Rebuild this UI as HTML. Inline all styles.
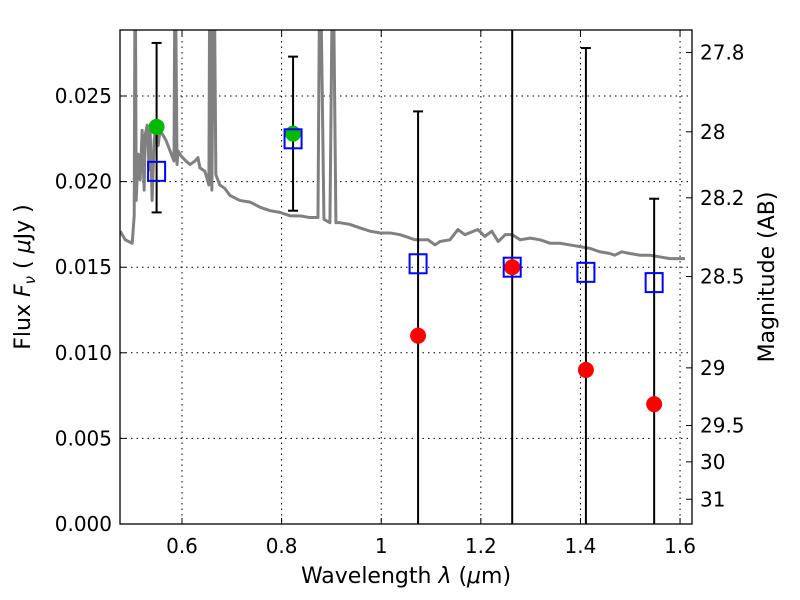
<!DOCTYPE html>
<html><head><meta charset="utf-8"><style>
html,body{margin:0;background:#fff;width:800px;height:600px;overflow:hidden}
svg{display:block;font-family:"DejaVu Sans","Liberation Sans",sans-serif}
</style></head><body>
<svg id="chart" width="800" height="600" viewBox="0 0 800 600" xmlns="http://www.w3.org/2000/svg">
<defs><clipPath id="clip"><rect x="120" y="30" width="572" height="494"/></clipPath></defs>
<rect x="0" y="0" width="800" height="600" fill="#fff"/>
<g id="grid"></g>
<g id="plot" clip-path="url(#clip)"></g>
<rect x="120" y="30" width="572" height="494" fill="none" stroke="#000" stroke-width="1.3"/>
<g id="axes"></g>
<text x="406" y="583" font-size="22" text-anchor="middle">Wavelength  <tspan font-style="italic">λ</tspan> (<tspan font-style="italic">μ</tspan>m)</text>
<text transform="translate(30,277) rotate(-90)" font-size="22" text-anchor="middle">Flux  <tspan font-style="italic">F</tspan><tspan font-style="italic" font-size="15" dy="5">ν</tspan><tspan dy="-5">  ( </tspan><tspan font-style="italic">μ</tspan>Jy )</text>
<text transform="translate(774,277) rotate(-90)" font-size="22" text-anchor="middle">Magnitude (AB)</text>
</svg>
<script>
const specLam=[0.476,0.486,0.500,0.504,0.506,0.508,0.512,0.516,0.520,0.524,0.526,0.530,0.534,0.536,0.540,0.544,0.548,0.552,0.556,0.568,0.576,0.584,0.586,0.590,0.592,0.598,0.608,0.616,0.626,0.632,0.636,0.646,0.654,0.656,0.660,0.664,0.668,0.676,0.686,0.696,0.716,0.737,0.757,0.777,0.797,0.817,0.837,0.857,0.873,0.877,0.885,0.897,0.903,0.909,0.917,0.937,0.957,0.978,0.998,1.018,1.038,1.058,1.068,1.078,1.094,1.108,1.118,1.138,1.154,1.168,1.194,1.208,1.222,1.235,1.249,1.263,1.279,1.299,1.319,1.339,1.359,1.379,1.399,1.419,1.439,1.459,1.469,1.483,1.499,1.520,1.540,1.560,1.580,1.600,1.610];
const specFlux=[0.0171,0.0166,0.0164,0.0180,0.035,0.0189,0.0216,0.0201,0.0230,0.0195,0.0227,0.0233,0.0207,0.0230,0.0189,0.0224,0.0233,0.0221,0.0230,0.0224,0.0218,0.0212,0.035,0.0210,0.0218,0.0215,0.0212,0.0210,0.0212,0.0214,0.0208,0.0206,0.0198,0.035,0.0195,0.035,0.0204,0.0198,0.0196,0.0192,0.0189,0.0188,0.0185,0.0183,0.0182,0.0180,0.0180,0.0179,0.0179,0.035,0.0178,0.0176,0.035,0.0176,0.0176,0.0175,0.0173,0.0171,0.0170,0.0170,0.0169,0.0167,0.0166,0.0166,0.0166,0.0163,0.0165,0.0166,0.0172,0.0169,0.0172,0.0168,0.0171,0.0165,0.0169,0.0169,0.0166,0.0167,0.0166,0.0164,0.0164,0.0163,0.0162,0.0161,0.0159,0.0158,0.0157,0.0159,0.0158,0.0157,0.0157,0.0156,0.0155,0.0155,0.0155];
const photLam=[0.549,0.823,1.074,1.263,1.411,1.548];
const modelFlux=[0.0206,0.0225,0.0152,0.0150,0.0147,0.0141];
const errLow=[0.0182,0.0183,-0.01,-0.01,-0.01,-0.01];
const errHigh=[0.0281,0.0273,0.0241,0.035,0.0278,0.0190];
const greenLam=[0.549,0.823];
const greenFlux=[0.0232,0.0228];
const redLam=[1.074,1.263,1.411,1.548];
const redFlux=[0.0110,0.0150,0.0090,0.0070];
const xTicks=[0.6,0.8,1.0,1.2,1.4,1.6];
const xTickLabels=["0.6","0.8","1","1.2","1.4","1.6"];
const yTicks=[0,0.005,0.010,0.015,0.020,0.025];
const yTickLabels=["0.000","0.005","0.010","0.015","0.020","0.025"];
const magTicks=[27.8,28,28.2,28.5,29,29.5,30,31];
const magTickLabels=["27.8","28","28.2","28.5","29","29.5","30","31"];

const X0=120,X1=692,Y0=524,Y1=30,LMIN=0.4755,LMAX=1.624,FMIN=0,FMAX=0.028855;
const sx=l=>X0+(l-LMIN)/(LMAX-LMIN)*(X1-X0);
const sy=f=>Y0-(f-FMIN)/(FMAX-FMIN)*(Y0-Y1);
const NS="http://www.w3.org/2000/svg";
function mk(tag,attrs,parent){const e=document.createElementNS(NS,tag);for(const k in attrs)e.setAttribute(k,attrs[k]);parent.appendChild(e);return e;}
const grid=document.getElementById('grid'),plot=document.getElementById('plot'),axes=document.getElementById('axes');

xTicks.forEach((t,i)=>{const x=sx(t);
 const g=mk('line',{x1:x,x2:x,y1:Y1,y2:Y0,stroke:'#000','stroke-width':1,'stroke-dasharray':'1.5,4'},grid);
 
 
 mk('line',{x1:x,x2:x,y1:Y0,y2:Y0-6,stroke:'#000'},axes);
 mk('line',{x1:x,x2:x,y1:Y1,y2:Y1+6,stroke:'#000'},axes);
 const tx=mk('text',{x:x,y:553,'font-size':20,'text-anchor':'middle'},axes);tx.textContent=xTickLabels[i];
 
 
});
yTicks.forEach((t,i)=>{const y=sy(t);
 const g=mk('line',{x1:X0,x2:X1,y1:y,y2:y,stroke:'#000','stroke-width':1,'stroke-dasharray':'1.5,4'},grid);
 
 
 mk('line',{x1:X0,x2:X0+6,y1:y,y2:y,stroke:'#000'},axes);
 const tx=mk('text',{x:112,y:y+7,'font-size':20,'text-anchor':'end'},axes);tx.textContent=yTickLabels[i];
 
 
});
magTicks.forEach((m,i)=>{const f=Math.pow(10,(23.9-m)/2.5);const y=sy(f);
 mk('line',{x1:X1,x2:X1-6,y1:y,y2:y,stroke:'#000'},axes);
 const tx=mk('text',{x:700,y:y+7,'font-size':20,'text-anchor':'start'},axes);tx.textContent=magTickLabels[i];
 
 
});
const sp=mk('polyline',{points:specLam.map((l,i)=>sx(l)+','+sy(specFlux[i])).join(' '),fill:'none',stroke:'#808080','stroke-width':3,'stroke-linejoin':'round'},plot);


photLam.forEach((l,i)=>{const x=sx(l);
 const e=mk('line',{x1:x,x2:x,y1:sy(errLow[i]),y2:sy(errHigh[i]),stroke:'#000','stroke-width':2},plot);
 
 
 [errLow[i],errHigh[i]].forEach(v=>{mk('line',{x1:x-5,x2:x+5,y1:sy(v),y2:sy(v),stroke:'#000','stroke-width':2},plot);});
});
greenLam.forEach((l,i)=>{const c=mk('circle',{cx:sx(l),cy:sy(greenFlux[i]),r:8,fill:'#00bb00'},plot);
 
 });
redLam.forEach((l,i)=>{const c=mk('circle',{cx:sx(l),cy:sy(redFlux[i]),r:8,fill:'#ff0000'},plot);
 
 });
photLam.forEach((l,i)=>{const r=mk('rect',{x:sx(l)-8.5,y:sy(modelFlux[i])-9.5,width:17,height:19,fill:'none',stroke:'#0000ff','stroke-width':2},plot);
 
 });
</script>
</body></html>
